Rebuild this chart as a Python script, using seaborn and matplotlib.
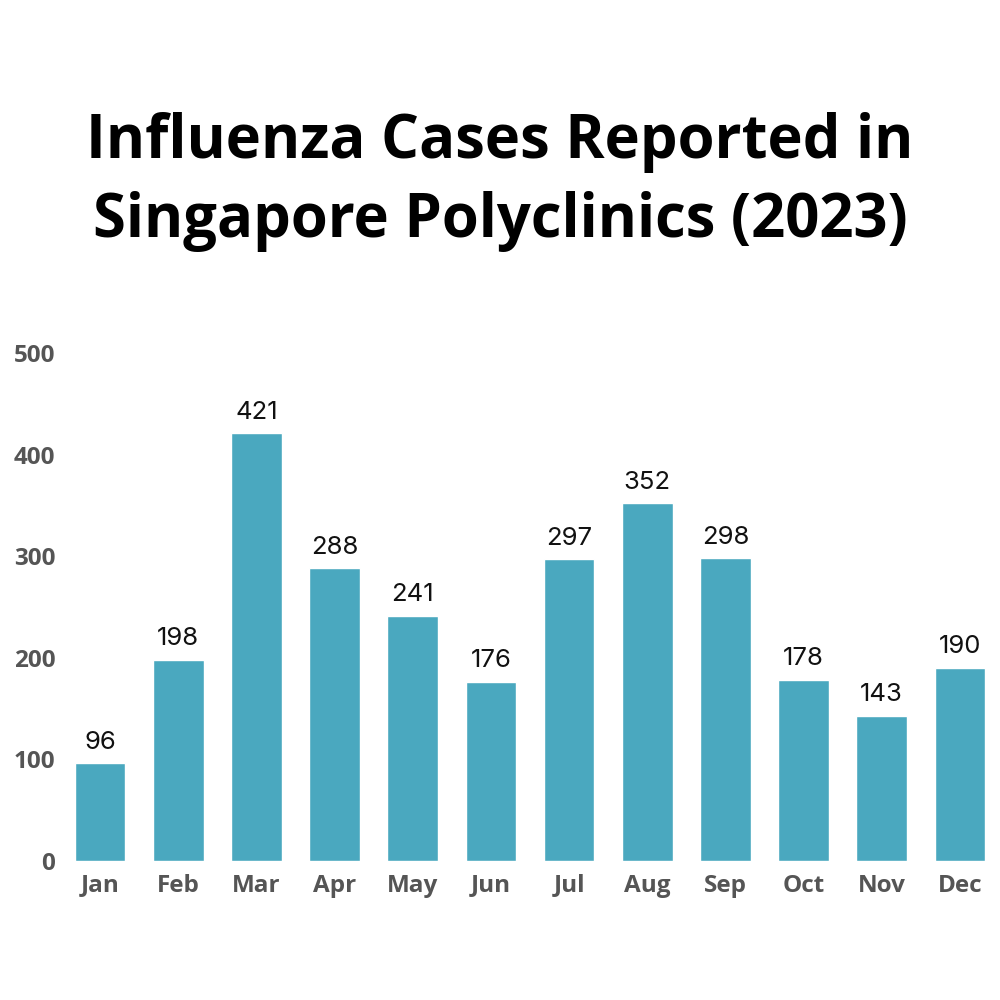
import matplotlib
matplotlib.use("Agg")
import matplotlib.pyplot as plt
import seaborn as sns
import pandas as pd

months = ["Jan", "Feb", "Mar", "Apr", "May", "Jun", "Jul", "Aug", "Sep", "Oct", "Nov", "Dec"]
cases = [96, 198, 421, 288, 241, 176, 297, 352, 298, 178, 143, 190]
yticks = [0, 100, 200, 300, 400, 500]
title = "Influenza Cases Reported in\nSingapore Polyclinics (2023)"

sns.set_theme(style="white")
plt.rcParams["font.family"] = ["Open Sans", "DejaVu Sans"]

df = pd.DataFrame({"month": months, "cases": cases})

fig = plt.figure(figsize=(10, 10), dpi=100)
ax = fig.add_axes([0.061, 0.139, 0.938, 0.508])
sns.barplot(data=df, x="month", y="cases", color="#4aa8bf", saturation=1,
            width=0.65, ax=ax)

ax.set_ylim(0, 500)
ax.set_xlim(-0.5, len(months) - 0.5)
ax.set_yticks(yticks)
ax.set_yticklabels([str(t) for t in yticks])
ax.set_xlabel("")
ax.set_ylabel("")
for s in ax.spines.values():
    s.set_visible(False)
ax.tick_params(axis="both", length=0)
ax.tick_params(axis="y", pad=4)
ax.tick_params(axis="x", pad=9)
for lbl in ax.get_yticklabels() + ax.get_xticklabels():
    lbl.set_fontweight("bold")
    lbl.set_color("#555555")
    lbl.set_fontsize(17.5)

for i, v in enumerate(cases):
    ax.annotate(str(v), (i, v), xytext=(0, 7), textcoords="offset points",
                ha="center", va="bottom", fontsize=18.5, color="#111111",
                family=["Inter", "DejaVu Sans"])

fig.text(0.5, 0.818, title, ha="center", va="center", fontsize=43,
         fontweight="bold", color="black", linespacing=1.4)

fig.savefig("out.png", dpi=100, facecolor="white")
